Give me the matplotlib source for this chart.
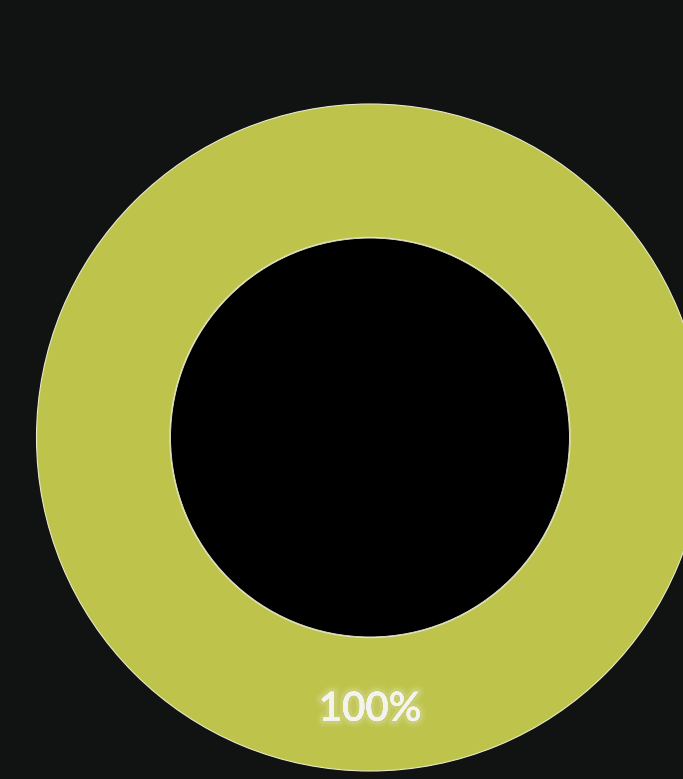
import matplotlib.pyplot as plt
import matplotlib.patheffects as pe
from matplotlib.patches import Circle

# data
categories = ["Total"]
values = [100]
colors = ["#bdc34b"]

W, H = 683, 779
fig = plt.figure(figsize=(W / 100, H / 100), dpi=100)
fig.patch.set_facecolor("#111313")

# donut centre ~(370, 437.5) px, outer radius ~333.5 px
r_px = 333.5
cx, cy = 370, 437.5
ax = fig.add_axes([(cx - r_px) / W, (H - cy - r_px) / H, 2 * r_px / W, 2 * r_px / H])
ax.set_facecolor("none")

wedges, texts, autotexts = ax.pie(
    values,
    colors=colors,
    startangle=90,
    radius=1.0,
    autopct="%1.0f%%",
    pctdistance=0.815,
    wedgeprops=dict(width=0.4, edgecolor="#e8eac8", linewidth=0.8),
    textprops=dict(color="#f4f4ee", fontsize=29, family="Lato", weight="semibold"),
)

for t in autotexts:
    t.set_path_effects([
        pe.withStroke(linewidth=9, foreground=(1, 1, 1, 0.08)),
        pe.withStroke(linewidth=5, foreground=(1, 1, 1, 0.12)),
        pe.Normal(),
    ])

# black hole in the middle
ax.add_patch(Circle((0, 0), 0.598, facecolor="black", edgecolor="#e8eac8", linewidth=0.6, zorder=0.5))

ax.set_xlim(-1, 1)
ax.set_ylim(-1, 1)
ax.set_aspect("equal")
ax.axis("off")

fig.savefig("out.png", dpi=100, facecolor=fig.get_facecolor())
